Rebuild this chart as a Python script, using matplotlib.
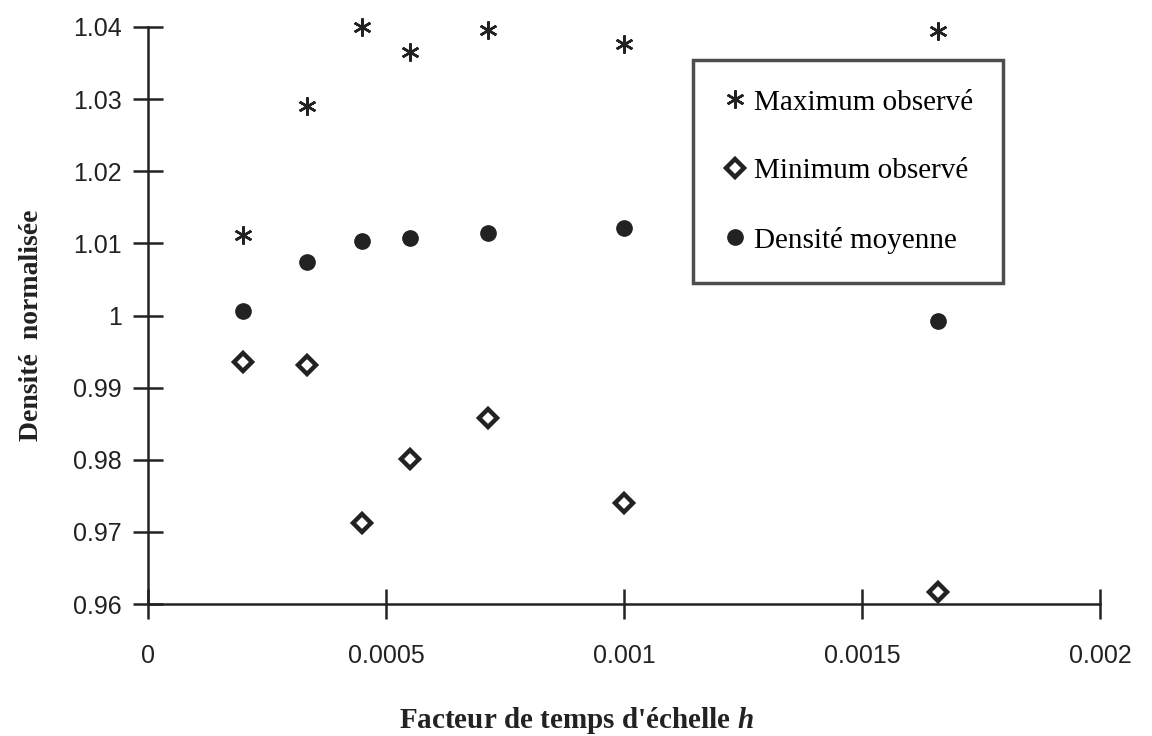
import matplotlib
matplotlib.use("Agg")
import matplotlib.pyplot as plt
from matplotlib.ticker import FixedLocator

plt.rcParams["mathtext.fontset"] = "custom"
plt.rcParams["mathtext.it"] = "Liberation Serif:italic:bold"
plt.rcParams["mathtext.rm"] = "Liberation Serif:bold"

h_values = [0.0002, 0.000333, 0.00045, 0.00055, 0.000714, 0.001, 0.00166]
max_obs = [1.0112, 1.0290, 1.0400, 1.0365, 1.0396, 1.0376, 1.0394]
min_obs = [0.9935, 0.9932, 0.9712, 0.9801, 0.9858, 0.9740, 0.9617]
mean_dens = [1.0006, 1.0074, 1.0103, 1.0107, 1.0115, 1.0122, 0.9993]

x_ticks = [0, 0.0005, 0.001, 0.0015, 0.002]
x_tick_labels = ["0", "0.0005", "0.001", "0.0015", "0.002"]
y_ticks = [0.96, 0.97, 0.98, 0.99, 1.00, 1.01, 1.02, 1.03, 1.04]
y_tick_labels = ["0.96", "0.97", "0.98", "0.99", "1", "1.01", "1.02", "1.03", "1.04"]

fig = plt.figure(figsize=(11.52, 7.36), dpi=100)
ax = fig.add_axes([148/1152, 132/736, 952/1152, 577/736])

dark = "#222222"
ax.plot(h_values, max_obs, linestyle="none", marker=(6, 2, 0), markersize=13,
        markeredgewidth=1.8, color=dark, label="Maximum observé", clip_on=False)
ax.plot(h_values, min_obs, linestyle="none", marker="D", markersize=9,
        markerfacecolor="white", markeredgecolor=dark, markeredgewidth=3.2,
        label="Minimum observé", clip_on=False)
ax.plot(h_values, mean_dens, linestyle="none", marker="o", markersize=11,
        color=dark, label="Densité moyenne", clip_on=False)

ax.set_xlim(0, 0.002)
ax.set_ylim(0.96, 1.04)
ax.xaxis.set_major_locator(FixedLocator(x_ticks))
ax.yaxis.set_major_locator(FixedLocator(y_ticks))
ax.set_xticklabels(x_tick_labels)
ax.set_yticklabels(y_tick_labels)

for s in ["top", "right"]:
    ax.spines[s].set_visible(False)
for s in ["left", "bottom"]:
    ax.spines[s].set_linewidth(1.8)
    ax.spines[s].set_color(dark)

ax.tick_params(axis="both", direction="inout", length=22, width=1.8, color=dark)
ax.tick_params(axis="x", pad=18)
ax.tick_params(axis="y", pad=8)
for lab in ax.get_xticklabels() + ax.get_yticklabels():
    lab.set_fontfamily("Liberation Sans")
    lab.set_fontsize(18)
    lab.set_color(dark)

ax.set_xlabel("Facteur de temps d'échelle $h$", fontfamily="Liberation Serif",
              fontweight="bold", fontsize=21, color=dark)
ax.xaxis.set_label_coords((576 - 148) / 952, -(705 - 604) / 577)
ax.set_ylabel("Densité  normalisée", fontfamily="Liberation Serif",
              fontweight="bold", fontsize=20, color=dark)
ax.yaxis.set_label_coords(-(148 - 44) / 952, (604 - 325) / 577)

leg = ax.legend(loc="upper left", bbox_to_anchor=(545/952, (604-60)/577),
                frameon=True, fancybox=False, prop={"family": "Liberation Serif", "size": 21},
                labelspacing=1.45, borderpad=1.0, handletextpad=0.2, handlelength=0.9,
                borderaxespad=0)
leg.get_frame().set_edgecolor(dark)
leg.get_frame().set_linewidth(2.5)

fig.savefig("out.png", dpi=100)
